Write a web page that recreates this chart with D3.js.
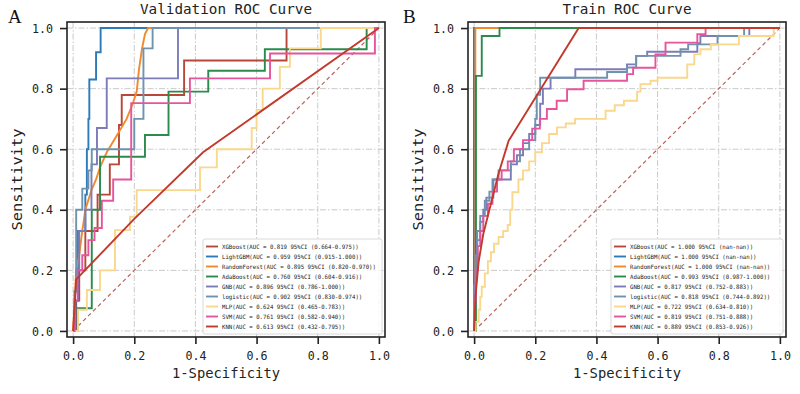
<!DOCTYPE html>
<html><head><meta charset="utf-8">
<script src="https://cdn.jsdelivr.net/npm/d3@7"></script>
<style>body{margin:0;background:#fff}</style>
</head><body><svg id="c" width="800" height="394"></svg>
<script>
// ---------- data ----------
const models = ["XGBoost","LightGBM","RandomForest","AdaBoost","GNB","logistic","MLP","SVM","KNN"];
const valAUC = ["0.819","0.959","0.895","0.760","0.896","0.902","0.624","0.761","0.613"];
const valCI  = ["0.664-0.975","0.915-1.000","0.820-0.970","0.604-0.916","0.786-1.000","0.830-0.974","0.465-0.783","0.582-0.940","0.432-0.795"];
const trainAUC = ["1.000","1.000","1.000","0.993","0.817","0.818","0.722","0.819","0.889"];
const trainCI  = ["nan-nan","nan-nan","nan-nan","0.987-1.000","0.752-0.883","0.744-0.892","0.634-0.810","0.751-0.888","0.853-0.926"];
const tickValues = [0.0,0.2,0.4,0.6,0.8,1.0];

// validation ROC points [fpr, tpr]
const valXGBoost = [[0,0],[0.01,0.1],[0.02,0.2],[0.04,0.33],[0.08,0.45],[0.12,0.55],[0.15,0.62],[0.15,0.68],[0.159,0.779],[0.363,0.893],[0.698,1],[1,1]];
const valLightGBM = [[0,0],[0.008,0.1],[0.016,0.22],[0.016,0.33],[0.04,0.45],[0.045,0.6],[0.05,0.7],[0.053,0.83],[0.075,0.92],[0.09,1],[1,1]];
const valRandomForest = [[0,0],[0.005,0.1],[0.01,0.2],[0.02,0.25],[0.03,0.33],[0.04,0.4],[0.06,0.465],[0.075,0.5],[0.088,0.54],[0.11,0.59],[0.14,0.64],[0.175,0.7],[0.195,0.75],[0.208,0.79],[0.215,0.86],[0.225,0.93],[0.235,0.98],[0.245,1],[1,1]];
const valAdaBoost = [[0,0],[0.016,0.075],[0.061,0.4],[0.088,0.575],[0.235,0.647],[0.312,0.79],[0.442,0.859],[0.627,0.93],[0.96,1],[1,1]];
const valGNB = [[0,0],[0.005,0.13],[0.01,0.2],[0.02,0.33],[0.04,0.4],[0.06,0.55],[0.078,0.67],[0.11,0.834],[0.343,1],[1,1]];
const valLogistic = [[0,0],[0.005,0.13],[0.01,0.4],[0.03,0.47],[0.05,0.53],[0.061,0.6],[0.2,0.7],[0.23,0.933],[0.26,1],[1,1]];
const valMLP = [[0,0],[0.016,0.07],[0.045,0.135],[0.088,0.2],[0.137,0.333],[0.186,0.377],[0.208,0.465],[0.415,0.54],[0.47,0.6],[0.584,0.67],[0.6,0.73],[0.62,0.8],[0.676,0.872],[0.709,0.933],[0.81,1],[1,1]];
const valSVM = [[0,0],[0.005,0.1],[0.015,0.2],[0.03,0.25],[0.05,0.3],[0.07,0.34],[0.094,0.43],[0.131,0.5],[0.19,0.752],[0.382,0.834],[0.644,0.916],[0.987,1],[1,1]];
const valKNN = [[0,0],[0.01,0.17],[0.2,0.37],[0.425,0.59],[1,1]];

// train ROC points [fpr, tpr]
const trainXGBoost = [[0,0],[0,1],[1,1]];
const trainLightGBM = [[0,0],[0,1],[1,1]];
const trainRandomForest = [[0,0],[0.004,0],[0.004,1],[1,1]];
const trainAdaBoost = [[0,0],[0.006,0.842],[0.025,0.974],[0.083,1],[1,1]];
const trainGNB = [[0,0],[0,0.1],[0.005,0.2],[0.01,0.3],[0.02,0.36],[0.03,0.4],[0.04,0.44],[0.063,0.5],[0.12,0.55],[0.14,0.58],[0.16,0.62],[0.18,0.65],[0.2,0.68],[0.216,0.75],[0.225,0.8],[0.25,0.836],[0.331,0.864],[0.5,0.88],[0.53,0.908],[0.566,0.922],[0.73,0.95],[0.74,0.974],[0.9,1],[1,1]];
const trainLogistic = [[0,0],[0,0.15],[0.005,0.25],[0.01,0.33],[0.02,0.38],[0.035,0.43],[0.05,0.46],[0.06,0.5],[0.08,0.53],[0.12,0.56],[0.15,0.6],[0.18,0.63],[0.2,0.7],[0.205,0.78],[0.216,0.836],[0.435,0.855],[0.5,0.87],[0.53,0.908],[0.675,0.93],[0.7,0.946],[0.796,0.974],[0.883,1],[1,1]];
const trainMLP = [[0,0],[0.005,0.03],[0.015,0.07],[0.02,0.113],[0.025,0.146],[0.035,0.19],[0.045,0.23],[0.055,0.26],[0.065,0.288],[0.08,0.31],[0.095,0.33],[0.11,0.35],[0.118,0.4],[0.125,0.458],[0.145,0.5],[0.16,0.53],[0.18,0.56],[0.2,0.59],[0.222,0.62],[0.245,0.65],[0.271,0.672],[0.3,0.685],[0.33,0.7],[0.43,0.727],[0.46,0.745],[0.49,0.76],[0.533,0.79],[0.544,0.815],[0.577,0.826],[0.6,0.836],[0.697,0.88],[0.72,0.913],[0.74,0.93],[0.774,0.946],[0.866,0.974],[0.98,1],[1,1]];
const trainSVM = [[0,0],[0,0.1],[0.005,0.2],[0.012,0.28],[0.02,0.33],[0.03,0.38],[0.045,0.42],[0.06,0.46],[0.075,0.5],[0.09,0.53],[0.11,0.56],[0.13,0.6],[0.16,0.63],[0.19,0.668],[0.215,0.7],[0.238,0.733],[0.27,0.76],[0.304,0.798],[0.358,0.826],[0.5,0.848],[0.52,0.869],[0.593,0.913],[0.626,0.952],[0.73,0.98],[0.757,1],[1,1]];
const trainKNN = [[0,0],[0.005,0.12],[0.015,0.23],[0.03,0.32],[0.05,0.4],[0.08,0.52],[0.113,0.628],[0.342,1],[1,1]];

// ---------- styles ----------
const colors = ["#b8463a","#2b7bb9","#f28a2c","#2a8b4c","#7d7bb8","#6e93af","#f9d88e","#e6559c","#c23a2c"];
const valStep = [true,true,false,true,true,true,true,true,false];
const trainStep = [false,false,false,true,true,true,true,true,false];
const MONO = "'DejaVu Sans Mono', monospace";

const svg = d3.select("#c");
svg.append("rect").attr("width",800).attr("height",394).attr("fill","#fff");

function panel(box, title, letter, letterX, curves, steps, aucs, cis, legendLeft) {
  const x = d3.scaleLinear().domain([-0.02,1.02]).range([box.left, box.right]);
  const y = d3.scaleLinear().domain([-0.02,1.02]).range([box.bottom, box.top]);
  const g = svg.append("g");
  // grid
  g.append("g").selectAll("line").data(tickValues).join("line")
    .attr("x1",d=>x(d)).attr("x2",d=>x(d)).attr("y1",box.top).attr("y2",box.bottom)
    .attr("stroke","#c4c4c4").attr("stroke-width",0.9).attr("stroke-dasharray","6,2,1.5,2");
  g.append("g").selectAll("line").data(tickValues).join("line")
    .attr("y1",d=>y(d)).attr("y2",d=>y(d)).attr("x1",box.left).attr("x2",box.right)
    .attr("stroke","#c4c4c4").attr("stroke-width",0.9).attr("stroke-dasharray","6,2,1.5,2");
  // diagonal
  g.append("line").attr("x1",x(0)).attr("y1",y(0)).attr("x2",x(1)).attr("y2",y(1))
    .attr("stroke","#c0605c").attr("stroke-width",1.2).attr("stroke-dasharray","4,3");
  // curves
  curves.forEach((pts,i)=>{
    const line = d3.line().x(d=>x(d[0])).y(d=>y(d[1]))
      .curve(steps[i] ? d3.curveStepAfter : d3.curveLinear);
    g.append("path").attr("d",line(pts)).attr("fill","none")
      .attr("stroke",colors[i]).attr("stroke-width",1.9).attr("stroke-linejoin","miter");
  });
  // frame
  g.append("rect").attr("x",box.left).attr("y",box.top)
    .attr("width",box.right-box.left).attr("height",box.bottom-box.top)
    .attr("fill","none").attr("stroke","#222").attr("stroke-width",1.6);
  // axes
  const fmt = d3.format(".1f");
  const ax = g.append("g").attr("transform",`translate(0,${box.bottom})`)
    .call(d3.axisBottom(x).tickValues(tickValues).tickFormat(fmt).tickSize(7).tickPadding(7));
  const ay = g.append("g").attr("transform",`translate(${box.left},0)`)
    .call(d3.axisLeft(y).tickValues(tickValues).tickFormat(fmt).tickSize(7).tickPadding(7));
  [ax,ay].forEach(a=>{
    a.select(".domain").remove();
    a.selectAll("line").attr("stroke","#222").attr("stroke-width",1.6);
    a.selectAll("text").attr("font-family",MONO).attr("font-size",13).attr("fill","#222")
      .attr("textLength",21).attr("lengthAdjust","spacingAndGlyphs");
  });
  const cx = (box.left+box.right)/2, cy = (box.top+box.bottom)/2;
  g.append("text").attr("x",cx).attr("y",378).attr("text-anchor","middle")
    .attr("font-family",MONO).attr("font-size",14).attr("fill","#222")
    .attr("textLength",108).attr("lengthAdjust","spacingAndGlyphs").text("1-Specificity");
  g.append("text").attr("transform",`translate(${box.left-45},${cy}) rotate(-90)`)
    .attr("text-anchor","middle").attr("font-family",MONO).attr("font-size",14).attr("fill","#222")
    .attr("textLength",102).attr("lengthAdjust","spacingAndGlyphs").text("Sensitivity");
  g.append("text").attr("x",cx).attr("y",14).attr("text-anchor","middle")
    .attr("font-family",MONO).attr("font-size",14.5).attr("fill","#222")
    .attr("textLength",title.length*8.6).attr("lengthAdjust","spacingAndGlyphs").text(title);
  g.append("text").attr("x",letterX).attr("y",23)
    .attr("font-family","'Liberation Serif', 'Times New Roman', serif").attr("font-size",19).attr("fill","#111").text(letter);
  // legend
  const labels = models.map((m,i)=>`${m}(AUC = ${aucs[i]} 95%CI (${cis[i]}))`);
  const cw = 3.42, rowH = 10;
  const lx = legendLeft, lw = box.right - 3 - lx;
  const lh = labels.length*rowH + 5;
  const ly = box.bottom - 3 - lh;
  const lg = g.append("g");
  lg.append("rect").attr("x",lx).attr("y",ly).attr("width",lw).attr("height",lh).attr("rx",2)
    .attr("fill","#fff").attr("fill-opacity",0.85).attr("stroke","#cfcfcf").attr("stroke-width",0.8);
  labels.forEach((s,i)=>{
    const ry = ly + 7.5 + i*rowH;
    lg.append("line").attr("x1",lx+3).attr("x2",lx+15).attr("y1",ry).attr("y2",ry)
      .attr("stroke",colors[i]).attr("stroke-width",1.9);
    lg.append("text").attr("x",lx+19).attr("y",ry+2.2).attr("font-family",MONO)
      .attr("font-size",6).attr("fill","#222")
      .attr("textLength",s.length*cw).attr("lengthAdjust","spacingAndGlyphs").text(s);
  });
}

panel({left:67,right:385,top:22,bottom:337},"Validation ROC Curve","A",8,
  [valXGBoost,valLightGBM,valRandomForest,valAdaBoost,valGNB,valLogistic,valMLP,valSVM,valKNN],
  valStep, valAUC, valCI, 203);
panel({left:468,right:786,top:22,bottom:337},"Train ROC Curve","B",403,
  [trainXGBoost,trainLightGBM,trainRandomForest,trainAdaBoost,trainGNB,trainLogistic,trainMLP,trainSVM,trainKNN],
  trainStep, trainAUC, trainCI, 611);
</script></body></html>
